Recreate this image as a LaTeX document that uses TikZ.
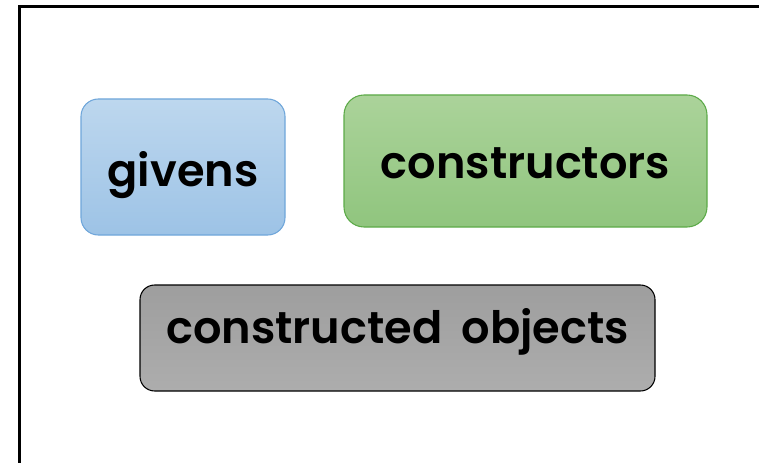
\documentclass[tikz,border=0pt]{standalone}
\usepackage{fontspec}
\setmainfont{Poppins}[BoldFont={Poppins SemiBold}, WordSpace=1.8]
\definecolor{blueTop}{HTML}{BDD7EE}
\definecolor{blueBot}{HTML}{9DC3E6}
\definecolor{blueLine}{HTML}{6FA6DA}
\definecolor{greenTop}{HTML}{ABD39A}
\definecolor{greenBot}{HTML}{90C57E}
\definecolor{greenLine}{HTML}{5CAA48}
\definecolor{grayTop}{HTML}{9E9E9E}
\definecolor{grayBot}{HTML}{ADADAD}

\begin{document}
\begin{tikzpicture}[x=0.75pt, y=-0.75pt,
    box/.style={rectangle, rounded corners=13pt, line width=0.8pt,
      font=\fontsize{33.5}{38}\selectfont\bfseries, inner sep=0pt,
      text height=17pt, text depth=0pt},
    givenbox/.style={box, draw=blueLine, top color=blueTop, bottom color=blueBot,
      minimum width=153pt, minimum height=102pt},
    ctorbox/.style={box, draw=greenLine, top color=greenTop, bottom color=greenBot,
      minimum width=272.25pt, minimum height=99pt, rounded corners=15pt},
    objbox/.style={box, draw=black, top color=grayTop, bottom color=grayBot,
      minimum width=386.25pt, minimum height=79.5pt, rounded corners=11pt}]

  \useasboundingbox (0,0) rectangle (759,463);
  % frame
  \draw[line width=2.25pt] (19.5,463) -- (19.5,6.5) -- (759,6.5);

  \node[givenbox] (givens) at (183,167) {\raisebox{-6.5pt}{givens}};
  \node[ctorbox] (ctors) at (525.5,161) {\raisebox{-5pt}{constructors}};
  \node[objbox] (objs) at (397.5,338) {\raisebox{4.5pt}{constructed objects}};
\end{tikzpicture}
\end{document}
